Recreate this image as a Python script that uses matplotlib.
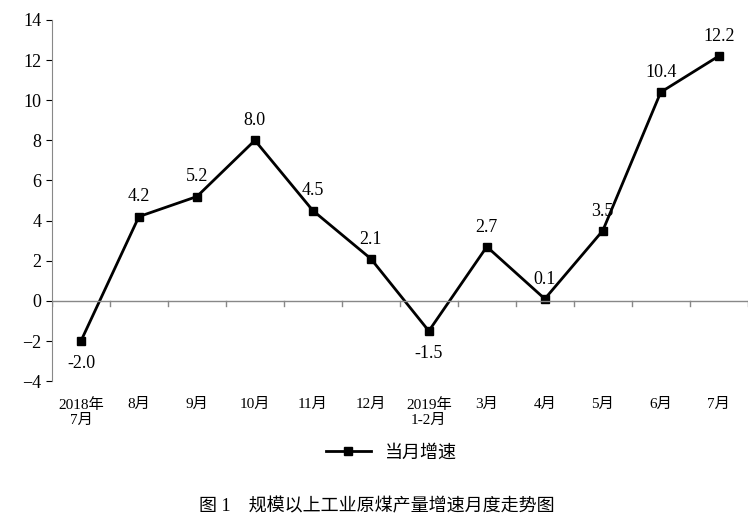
import matplotlib
matplotlib.use("Agg")
import matplotlib.pyplot as plt

cats = ["2018年\n7月", "8月", "9月", "10月", "11月", "12月", "2019年\n1-2月", "3月", "4月", "5月", "6月", "7月"]
vals = [-2.0, 4.2, 5.2, 8.0, 4.5, 2.1, -1.5, 2.7, 0.1, 3.5, 10.4, 12.2]

fam = ['Liberation Serif', 'Noto Sans CJK SC']
plt.rcParams['font.family'] = fam

fig = plt.figure(figsize=(7.53, 5.25), dpi=100)
ax = fig.add_axes([0.069, 0.274, 0.924, 0.688])
x = list(range(len(cats)))
ax.plot(x, vals, color='black', lw=2, marker='s', ms=6, label='当月增速')
for xi, v in zip(x, vals):
    off = -22 if v < 0 else 8
    ax.annotate(f"{v:.1f}", (xi, v), xytext=(0, off), textcoords='offset points',
                ha='center', va='bottom', fontsize=13)
ax.set_xlim(-0.5, len(cats) - 0.5)
ax.set_ylim(-4, 14)
ax.set_yticks(range(-4, 15, 2))
ax.tick_params(axis='y', labelsize=13, direction='out', length=4)
ax.set_xticks(x)
ax.set_xticklabels(cats, fontsize=11)
ax.tick_params(axis='x', length=0, pad=12)
for s in ['top', 'right', 'bottom']:
    ax.spines[s].set_visible(False)
ax.spines['left'].set_color('#888888')
ax.axhline(0, color='#888888', lw=1)
for b in range(len(cats) + 1):
    ax.plot([b - 0.5, b - 0.5], [0, -0.25], color='#888888', lw=1)
fig.legend(loc='center', bbox_to_anchor=(0.52, 0.137), frameon=False, fontsize=13,
           handlelength=2.5)
fig.text(0.5, 0.034, "图 1    规模以上工业原煤产量增速月度走势图", ha='center', va='center', fontsize=13)
fig.savefig("out.png", dpi=100)
